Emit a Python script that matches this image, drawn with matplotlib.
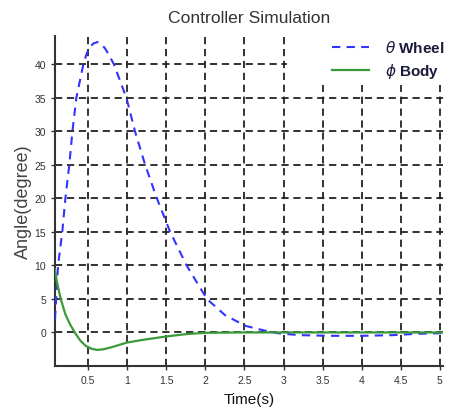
import matplotlib
matplotlib.use("Agg")
import matplotlib.pyplot as plt
from matplotlib.patches import Rectangle

# Data
t_wheel = [0.077, 0.116, 0.17, 0.21, 0.26, 0.30, 0.35, 0.44, 0.48, 0.52, 0.57, 0.62,
           0.67, 0.72, 0.77, 0.83, 0.99, 1.10, 1.23, 1.38, 1.55, 1.76, 2.02,
           2.25, 2.51, 2.75, 2.92, 3.2, 3.6, 4.0, 4.4, 4.7, 5.05]
wheel = [2.0, 10, 15, 20, 25, 30, 35, 40, 41.5, 42.5, 43.1, 43.3,
         43.0, 42.3, 41.3, 40, 35, 30, 25, 20, 15, 10, 5,
         2.6, 1.0, 0.3, -0.1, -0.4, -0.5, -0.5, -0.4, -0.2, -0.1]

t_body = [0.077, 0.1, 0.15, 0.21, 0.27, 0.33, 0.4, 0.47, 0.55, 0.62, 0.7, 0.8, 0.9,
          1.0, 1.2, 1.5, 1.75, 2.0, 2.5, 3.0, 4.0, 5.05]
body = [9.4, 7.6, 5.0, 2.7, 1.2, 0.0, -1.2, -2.0, -2.45, -2.6, -2.5, -2.2, -1.85,
        -1.5, -1.1, -0.6, -0.25, -0.05, 0.0, 0.0, 0.0, 0.0]

x_ticks = [0.5, 1, 1.5, 2, 2.5, 3, 3.5, 4, 4.5, 5]
x_labels = ["0.5", "1", "1.5", "2", "2.5", "3", "3.5", "4", "4.5", "5"]
y_ticks = [0, 5, 10, 15, 20, 25, 30, 35, 40]

plt.rcParams['font.family'] = ['Liberation Sans', 'DejaVu Sans']

fig = plt.figure(figsize=(4.51, 4.10), dpi=100)
ax = fig.add_axes([55/451, 1 - 367/410, 388/451, (367 - 37)/410])

l1, = ax.plot(t_wheel, wheel, color='#3333ff', lw=1.5, linestyle=(0, (4, 3)), zorder=3)
l2, = ax.plot(t_body, body, color='#3a9a3a', lw=1.6, zorder=3)

ax.set_xlim(0.077, 5.04)
ax.set_ylim(-5, 44.2)
ax.set_xticks(x_ticks)
ax.set_xticklabels(x_labels)
ax.set_yticks(y_ticks)
ax.tick_params(axis='both', labelsize=7.5, colors='#333333', length=3, width=1)
ax.grid(True, color='#222222', linestyle=(0, (4, 2.6)), lw=1.3)
ax.set_axisbelow(True)

for s in ['top', 'right']:
    ax.spines[s].set_visible(False)
for s in ['left', 'bottom']:
    ax.spines[s].set_color('#333333')
    ax.spines[s].set_linewidth(1.5)

ax.set_title('Controller Simulation', fontsize=12.6, color='#333333', pad=10)
ax.set_ylabel('Angle(degree)', fontsize=13, color='#444444', labelpad=2)
ax.set_xlabel('Time(s)', fontsize=11, color='#111111', labelpad=5)

# white backing behind the legend (hides grid there, as in the reference)
fig.patches.append(Rectangle((287/451, 1 - 86/410), 164/451, 56/410,
                             transform=fig.transFigure, facecolor='white',
                             edgecolor='none', zorder=1))

leg = fig.legend([l1, l2], [r'$\theta$ Wheel', r'$\phi$ Body'], loc='upper left',
                 bbox_to_anchor=(332/451, 1 - 40/410), bbox_transform=fig.transFigure,
                 frameon=False, fontsize=11, handlelength=2.4, handletextpad=1.1,
                 borderpad=0, borderaxespad=0, labelspacing=0.4)
leg.set_zorder(5)
for txt in leg.get_texts():
    txt.set_color('#1a1a3a')
    txt.set_fontweight('bold')

fig.savefig('out.png', dpi=100)
